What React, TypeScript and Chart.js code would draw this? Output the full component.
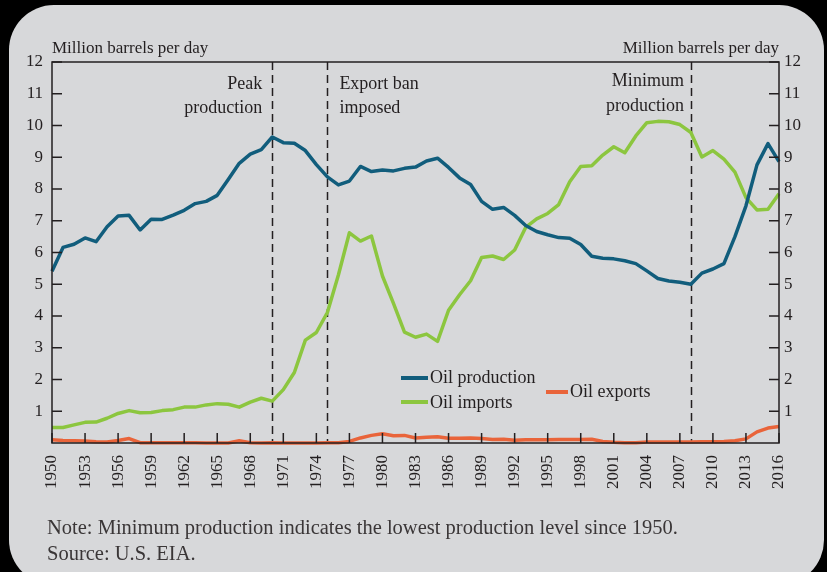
import React, { useEffect, useRef } from 'react';
import { Chart, registerables } from 'chart.js';

Chart.register(...registerables);

// ---------------- data ----------------
const years = [
  1950, 1951, 1952, 1953, 1954, 1955, 1956, 1957, 1958, 1959,
  1960, 1961, 1962, 1963, 1964, 1965, 1966, 1967, 1968, 1969,
  1970, 1971, 1972, 1973, 1974, 1975, 1976, 1977, 1978, 1979,
  1980, 1981, 1982, 1983, 1984, 1985, 1986, 1987, 1988, 1989,
  1990, 1991, 1992, 1993, 1994, 1995, 1996, 1997, 1998, 1999,
  2000, 2001, 2002, 2003, 2004, 2005, 2006, 2007, 2008, 2009,
  2010, 2011, 2012, 2013, 2014, 2015, 2016,
];

const oilProduction = [
  5.41, 6.16, 6.26, 6.46, 6.34, 6.81, 7.15, 7.17, 6.71, 7.05,
  7.04, 7.18, 7.33, 7.54, 7.61, 7.80, 8.30, 8.81, 9.10, 9.24,
  9.64, 9.46, 9.44, 9.21, 8.77, 8.38, 8.13, 8.25, 8.71, 8.55,
  8.60, 8.57, 8.65, 8.69, 8.88, 8.97, 8.68, 8.35, 8.14, 7.61,
  7.36, 7.42, 7.17, 6.85, 6.66, 6.56, 6.47, 6.45, 6.25, 5.88,
  5.82, 5.80, 5.74, 5.65, 5.42, 5.18, 5.10, 5.06, 5.00, 5.35,
  5.48, 5.65, 6.50, 7.47, 8.76, 9.43, 8.86,
];

const oilImports = [
  0.49, 0.49, 0.57, 0.65, 0.66, 0.78, 0.93, 1.02, 0.95, 0.96,
  1.02, 1.05, 1.13, 1.13, 1.20, 1.24, 1.22, 1.13, 1.29, 1.41,
  1.32, 1.68, 2.22, 3.24, 3.48, 4.11, 5.29, 6.62, 6.36, 6.52,
  5.26, 4.40, 3.49, 3.33, 3.43, 3.20, 4.18, 4.67, 5.11, 5.84,
  5.89, 5.78, 6.08, 6.79, 7.06, 7.23, 7.51, 8.23, 8.71, 8.73,
  9.07, 9.33, 9.14, 9.67, 10.09, 10.13, 10.12, 10.03, 9.78, 9.01,
  9.21, 8.94, 8.53, 7.73, 7.34, 7.36, 7.85,
];

const oilExports = [
  0.10, 0.08, 0.07, 0.06, 0.04, 0.03, 0.08, 0.14, 0.01, 0.01,
  0.01, 0.01, 0.01, 0.01, 0.00, 0.00, 0.00, 0.07, 0.01, 0.00,
  0.01, 0.00, 0.00, 0.00, 0.00, 0.01, 0.01, 0.05, 0.16, 0.24,
  0.29, 0.23, 0.24, 0.16, 0.18, 0.20, 0.15, 0.15, 0.16, 0.14,
  0.11, 0.12, 0.09, 0.10, 0.10, 0.10, 0.11, 0.11, 0.11, 0.12,
  0.05, 0.02, 0.01, 0.01, 0.03, 0.03, 0.03, 0.03, 0.03, 0.04,
  0.04, 0.05, 0.07, 0.13, 0.35, 0.47, 0.52,
];

const seriesNames = ['Oil production', 'Oil imports', 'Oil exports'];
const yTickValues = [1, 2, 3, 4, 5, 6, 7, 8, 9, 10, 11, 12];
const xTickStepYears = 3;
const axisTitle = 'Million barrels per day';

const eventYears = { peak: 1970, ban: 1975, minimum: 2008 };
const eventLabels = {
  peak: ['Peak', 'production'],
  ban: ['Export ban', 'imposed'],
  minimum: ['Minimum', 'production'],
};
const noteLines = [
  'Note: Minimum production indicates the lowest production level since 1950.',
  'Source: U.S. EIA.',
];

// ---------------- styles ----------------
const FONT = '"Liberation Serif", "DejaVu Serif", serif';
const INK = '#231f20';
const PANEL = '#d7d8da';
const C_PROD = '#115d7c';
const C_IMP = '#8cc63f';
const C_EXP = '#e9643a';

const W = 827;
const H = 572;

const decorPlugin = {
  id: 'decor',
  beforeDraw(chart: any) {
    const ctx = chart.ctx;
    ctx.save();
    ctx.fillStyle = '#000';
    ctx.fillRect(0, 0, chart.width, chart.height);
    ctx.fillStyle = PANEL;
    ctx.beginPath();
    (ctx as any).roundRect(9, 5, 815, 580, 45);
    ctx.fill();
    ctx.restore();
  },
  beforeDatasetsDraw(chart: any) {
    const ctx = chart.ctx;
    const { top, bottom } = chart.chartArea;
    const xs = chart.scales.x;
    ctx.save();
    ctx.strokeStyle = INK;
    ctx.lineWidth = 1.5;
    ctx.setLineDash([8, 5]);
    [eventYears.peak, eventYears.ban, eventYears.minimum].forEach((yr) => {
      const px = Math.round(xs.getPixelForValue(yr)) + 0.5;
      ctx.beginPath();
      ctx.moveTo(px, top);
      ctx.lineTo(px, bottom);
      ctx.stroke();
    });
    ctx.restore();
  },
  afterDraw(chart: any) {
    const ctx = chart.ctx;
    const { left, right, top, bottom } = chart.chartArea;
    const xs = chart.scales.x;
    const ys = chart.scales.y;
    ctx.save();
    // frame
    ctx.strokeStyle = INK;
    ctx.lineWidth = 1.5;
    ctx.setLineDash([]);
    ctx.strokeRect(left, top, right - left, bottom - top);
    // inward ticks
    ctx.beginPath();
    yTickValues.forEach((v) => {
      const py = ys.getPixelForValue(v);
      ctx.moveTo(left, py);
      ctx.lineTo(left + 10, py);
      ctx.moveTo(right, py);
      ctx.lineTo(right - 10, py);
    });
    xs.ticks.forEach((t: any) => {
      const px = xs.getPixelForValue(t.value);
      ctx.moveTo(px, bottom);
      ctx.lineTo(px, bottom - 10);
    });
    ctx.stroke();

    ctx.fillStyle = INK;
    ctx.textBaseline = 'alphabetic';
    // axis titles
    ctx.font = `17px ${FONT}`;
    ctx.textAlign = 'left';
    ctx.fillText(axisTitle, left, 53);
    ctx.textAlign = 'right';
    ctx.fillText(axisTitle, right, 53);

    // event annotations
    ctx.font = `18px ${FONT}`;
    const xPeak = xs.getPixelForValue(eventYears.peak);
    const xBan = xs.getPixelForValue(eventYears.ban);
    const xMin = xs.getPixelForValue(eventYears.minimum);
    ctx.textAlign = 'right';
    ctx.fillText(eventLabels.peak[0], xPeak - 10, 89);
    ctx.fillText(eventLabels.peak[1], xPeak - 10, 113);
    ctx.fillText(eventLabels.minimum[0], xMin - 7, 86);
    ctx.fillText(eventLabels.minimum[1], xMin - 7, 111);
    ctx.textAlign = 'left';
    ctx.fillText(eventLabels.ban[0], xBan + 12, 89);
    ctx.fillText(eventLabels.ban[1], xBan + 12, 113);

    // legend
    const legendItems = [
      { name: seriesNames[0], color: C_PROD, x0: 401, x1: 428, y: 378, tx: 430, ty: 383 },
      { name: seriesNames[1], color: C_IMP, x0: 401, x1: 428, y: 402, tx: 430, ty: 408 },
      { name: seriesNames[2], color: C_EXP, x0: 546, x1: 568, y: 392, tx: 570, ty: 397 },
    ];
    legendItems.forEach((it) => {
      ctx.strokeStyle = it.color;
      ctx.lineWidth = 4;
      ctx.beginPath();
      ctx.moveTo(it.x0, it.y);
      ctx.lineTo(it.x1, it.y);
      ctx.stroke();
      ctx.fillStyle = INK;
      ctx.textAlign = 'left';
      ctx.fillText(it.name, it.tx, it.ty);
    });

    // notes
    ctx.font = `20.5px ${FONT}`;
    ctx.fillStyle = '#3a3637';
    ctx.textAlign = 'left';
    ctx.fillText(noteLines[0], 47, 534);
    ctx.fillText(noteLines[1], 47, 560);
    ctx.restore();
  },
};

function toPoints(values: number[]) {
  return values.map((v, i) => ({ x: years[i], y: v }));
}

export default function App() {
  const canvasRef = useRef<HTMLCanvasElement | null>(null);

  useEffect(() => {
    document.body.style.margin = '0';
    const canvas = canvasRef.current;
    if (!canvas) return;
    const tickFont = { family: FONT, size: 17 };
    const chart = new Chart(canvas, {
      type: 'line',
      data: {
        datasets: [
          { label: seriesNames[0], data: toPoints(oilProduction), borderColor: C_PROD, borderWidth: 3.5, pointRadius: 0, tension: 0, clip: false, yAxisID: 'y' },
          { label: seriesNames[1], data: toPoints(oilImports), borderColor: C_IMP, borderWidth: 3.5, pointRadius: 0, tension: 0, clip: false, yAxisID: 'y' },
          { label: seriesNames[2], data: toPoints(oilExports), borderColor: C_EXP, borderWidth: 3.5, pointRadius: 0, tension: 0, clip: false, yAxisID: 'y' },
        ],
      },
      options: {
        responsive: false,
        animation: false,
        devicePixelRatio: 1,
        layout: { padding: { top: 62, left: 0, right: 0, bottom: 0 } },
        plugins: { legend: { display: false }, tooltip: { enabled: false } },
        elements: { line: { borderJoinStyle: 'round', borderCapStyle: 'butt' } },
        scales: {
          x: {
            type: 'linear',
            min: years[0],
            max: years[years.length - 1],
            grid: { display: false, drawTicks: false },
            border: { display: false },
            ticks: {
              stepSize: xTickStepYears,
              autoSkip: false,
              minRotation: 90,
              maxRotation: 90,
              padding: 12,
              font: tickFont,
              color: INK,
              callback: (v: any) => String(v),
            },
            afterFit: (s: any) => { s.height = 129; },
          },
          y: {
            type: 'linear',
            position: 'left',
            min: 0,
            max: 12,
            grid: { display: false, drawTicks: false },
            border: { display: false },
            ticks: {
              stepSize: 1,
              padding: 9,
              font: tickFont,
              color: INK,
              callback: (v: any) => (v === 0 ? '' : String(v)),
            },
            afterFit: (s: any) => { s.width = 52; },
          },
          y2: {
            type: 'linear',
            position: 'right',
            min: 0,
            max: 12,
            grid: { display: false, drawTicks: false },
            border: { display: false },
            ticks: {
              stepSize: 1,
              padding: 5,
              font: tickFont,
              color: INK,
              callback: (v: any) => (v === 0 ? '' : String(v)),
            },
            afterFit: (s: any) => { s.width = 48; },
          },
        },
      } as any,
      plugins: [decorPlugin],
    });
    return () => chart.destroy();
  }, []);

  return (
    <div style={{ width: W, height: H, position: 'relative', background: '#000' }}>
      <canvas ref={canvasRef} width={W} height={H} style={{ display: 'block', width: W, height: H }} />
    </div>
  );
}
